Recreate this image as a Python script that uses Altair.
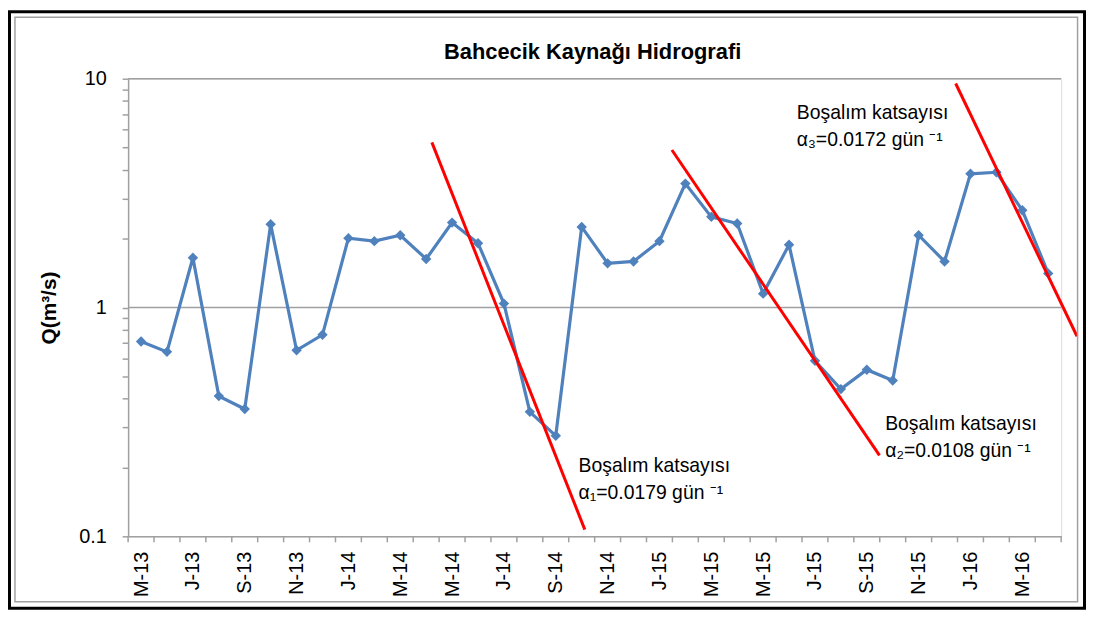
import altair as alt
import pandas as pd

# ---- data ----
months = ["M-13", "J-13", "J-13", "A-13", "S-13", "O-13", "N-13", "D-13",
          "J-14", "F-14", "M-14", "A-14", "M-14", "J-14", "J-14", "A-14", "S-14", "O-14", "N-14", "D-14",
          "J-15", "F-15", "M-15", "A-15", "M-15", "J-15", "J-15", "A-15", "S-15", "O-15", "N-15", "D-15",
          "J-16", "F-16", "M-16", "A-16"]
discharge = [0.71, 0.64, 1.65, 0.41, 0.36, 2.31, 0.65, 0.76,
             2.01, 1.95, 2.07, 1.63, 2.35, 1.91, 1.04, 0.35, 0.275, 2.25, 1.56, 1.59,
             1.95, 3.48, 2.49, 2.33, 1.15, 1.88, 0.585, 0.44, 0.535, 0.48, 2.07, 1.59,
             3.84, 3.90, 2.66, 1.41]

# recession (boşalım) lines: segment id, x in month index, Q
rec_id = [1, 1, 2, 2, 3, 3]
rec_x = [11.22, 17.12, 20.48, 28.49, 31.43, 36.11]
rec_q = [5.27, 0.107, 4.88, 0.226, 9.53, 0.749]

ann_text = ["Boşalım katsayısı", "α₁=0.0179 gün ⁻¹",
            "Boşalım katsayısı", "α₂=0.0108 gün ⁻¹",
            "Boşalım katsayısı", "α₃=0.0172 gün ⁻¹"]
ann_x = [16.88, 16.88, 28.71, 28.71, 25.30, 25.30]
ann_q = [0.192, 0.146, 0.2905, 0.2228, 6.65, 5.10]

y_major = [0.1, 1, 10]
title_text = "Bahcecik Kaynağı Hidrografi"
y_title = "Q(m³/s)"

# ---- tables ----
series = pd.DataFrame({"i": list(range(len(months))), "q": discharge})
rec = pd.DataFrame({"id": rec_id, "i": rec_x, "q": rec_q})
ann = pd.DataFrame({"i": ann_x, "q": ann_q, "t": ann_text})
bounds = pd.DataFrame({"i": [k - 0.5 for k in range(len(months) + 1)]})
grid = pd.DataFrame({"q": y_major[1:]})

y_ticks = []
for d in y_major[:-1]:
    for m in range(1, 10):
        y_ticks.append(round(m * d, 10))
y_ticks.append(y_major[-1])

FONT = "Liberation Sans"
GRAY = "#A0A0A0"
W, H = 940, 461

label_arr = "[" + ",".join("'%s'" % m for m in months) + "]"
major_arr = "[" + ",".join(str(v) for v in y_major) + "]"

x_scale = alt.Scale(domain=[-0.5, len(months) - 0.5], nice=False, zero=False)
y_scale = alt.Scale(type="log", domain=[y_major[0], y_major[-1]], nice=False)

x_axis = alt.Axis(values=list(range(0, len(months), 2)), labelExpr=label_arr + "[datum.value]",
                  labelAngle=-90, labelFont=FONT, labelFontSize=20, labelColor="#000000",
                  ticks=False, tickSize=0, labelPadding=15, grid=False,
                  domainColor=GRAY, domainWidth=1.5, title=None, labelOverlap=False)
y_axis = alt.Axis(values=y_ticks,
                  labelExpr="indexof(" + major_arr + ", datum.value) >= 0 ? format(datum.value, '~g') : ''",
                  labelFont=FONT, labelFontSize=20, labelColor="#000000",
                  tickSize=6, tickColor=GRAY, tickWidth=1.5, labelPadding=16,
                  grid=False, domainColor=GRAY, domainWidth=1.5,
                  title=y_title, titleFont=FONT, titleFontSize=21, titleFontWeight="bold",
                  titleColor="#000000", titlePadding=19, labelOverlap=False)


def X(field="i"):
    return alt.X(f"{field}:Q", scale=x_scale, axis=x_axis)


def Y(field="q"):
    return alt.Y(f"{field}:Q", scale=y_scale, axis=y_axis)


gridlines = alt.Chart(grid).mark_rule(color=GRAY, strokeWidth=1.5).encode(y=Y())

xticks = alt.Chart(bounds).mark_rule(color=GRAY, strokeWidth=1.5).encode(
    x=X(), y=alt.value(H), y2=alt.value(H + 6))

line = alt.Chart(series).mark_line(
    color="#4F81BD", strokeWidth=3.2,
    point=alt.OverlayMarkDef(shape="diamond", size=110, filled=True, color="#4F81BD", opacity=1),
).encode(x=X(), y=Y())

red = alt.Chart(rec).mark_line(color="#FF0000", strokeWidth=3).encode(
    x=X(), y=Y(), detail="id:N")

texts = alt.Chart(ann).mark_text(
    align="left", baseline="alphabetic", font=FONT, fontSize=19.5, color="#000000"
).encode(x=X(), y=Y(), text="t:N")

frame = alt.Data(values=[{"k": 0}])
title_mark = alt.Chart(alt.Data(values=[{"t": title_text}])).mark_text(
    align="center", baseline="alphabetic", font=FONT, fontSize=22, fontWeight="bold",
    color="#000000"
).encode(x=alt.value(W / 2 - 2), y=alt.value(-20), text="t:N")

outer = alt.Chart(frame).mark_rect(filled=False, stroke="#000000", strokeWidth=3).encode(
    x=alt.value(-119.5), x2=alt.value(963.5), y=alt.value(-67.5), y2=alt.value(533.5))
inner = alt.Chart(frame).mark_rect(filled=False, stroke="#A0A0A0", strokeWidth=1.5).encode(
    x=alt.value(-114), x2=alt.value(956.5), y=alt.value(-62), y2=alt.value(527))

chart = alt.layer(gridlines, xticks, line, red, texts, title_mark, outer, inner).properties(
    width=W, height=H,
    autosize=alt.AutoSizeParams(type="none"),
    padding={"left": 121, "top": 69, "right": 25, "bottom": 74},
).configure_view(stroke=None).configure(background="#FFFFFF")

chart.save("out.html", embed_options={"renderer": "svg", "actions": False})
